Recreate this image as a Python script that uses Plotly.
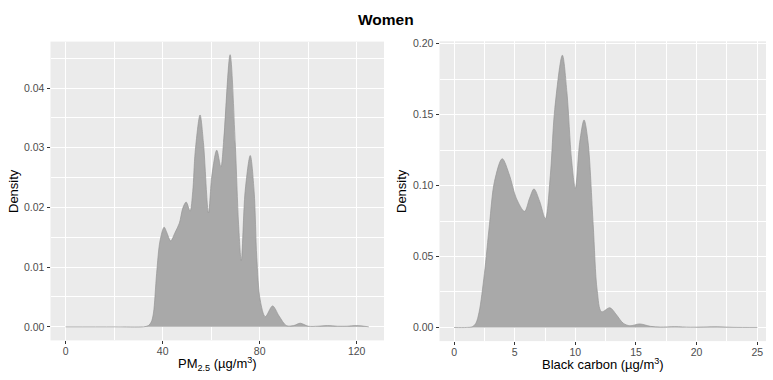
import plotly.graph_objects as go

# PM2.5 density (women)
pm_x = [0, 20, 32, 34.1, 35.3, 36.2, 37.5, 38.9, 40.6, 41.7, 43.3, 45.1, 46.9, 48.3, 49.7,
        51.3, 52.4, 53.4, 55.4, 56.8, 58.9, 60.3, 62.3, 64.0, 65.1, 67.8, 69.9, 71.3, 72.4,
        74.0, 76.1, 77.7, 78.8, 80.2, 82.3, 85.3, 88, 91, 94, 96.7, 100, 104, 108, 112,
        116, 120, 125]
pm_density = [0, 0, 0, 0.0002, 0.0008, 0.0023, 0.0089, 0.0144, 0.0167, 0.0158, 0.0144,
              0.0158, 0.0174, 0.0199, 0.0209, 0.0194, 0.0227, 0.0293, 0.0355, 0.0309,
              0.0191, 0.0254, 0.0296, 0.0268, 0.0309, 0.0456, 0.0309, 0.0172, 0.0111,
              0.0227, 0.0287, 0.0227, 0.0116, 0.0045, 0.0017, 0.0035, 0.0018, 0.0002,
              0.0002, 0.0006, 0.0001, 0.0001, 0.0002, 0.0001, 0.0001, 0.0002, 0.0]

# Black carbon density (women)
bc_x = [0, 1.0, 1.5, 1.8, 2.07, 2.5, 2.92, 3.33, 3.97, 4.57, 5.13, 5.81, 6.23, 6.59, 7.06,
        7.53, 7.94, 8.30, 8.93, 9.31, 9.68, 10.0, 10.36, 10.72, 11.05, 11.47, 11.8, 12.16,
        12.85, 13.4, 13.95, 14.5, 15.3, 16.2, 17, 18.2, 19.5, 21.7, 23, 25]
bc_density = [0, 0, 0.0005, 0.003, 0.011, 0.0378, 0.0726, 0.1027, 0.1189, 0.1073, 0.0911,
              0.0818, 0.0911, 0.0976, 0.0888, 0.0767, 0.1073, 0.1536, 0.1918, 0.1652,
              0.1189, 0.098, 0.1304, 0.1462, 0.1304, 0.0726, 0.0262, 0.0111, 0.0139,
              0.0088, 0.003, 0.0012, 0.0025, 0.0008, 0.0003, 0.0006, 0.0002, 0.0005,
              0.0001, 0]

pm_ticks = [0, 40, 80, 120]
pm_yticks = [0.00, 0.01, 0.02, 0.03, 0.04]
bc_ticks = [0, 5, 10, 15, 20, 25]
bc_yticks = [0.00, 0.05, 0.10, 0.15, 0.20]

W, H = 773, 380
FILL = "#A9A9A9"
LINE = "#959595"
PANEL = "#EBEBEB"
FONT = "Liberation Sans, Arial, sans-serif"

fig = go.Figure()
fig.add_trace(go.Scatter(x=pm_x, y=pm_density, mode="lines", fill="tozeroy",
                         fillcolor=FILL, line=dict(color=LINE, width=0.7, shape="spline", smoothing=0.9),
                         xaxis="x", yaxis="y", showlegend=False, hoverinfo="skip"))
fig.add_trace(go.Scatter(x=bc_x, y=bc_density, mode="lines", fill="tozeroy",
                         fillcolor=FILL, line=dict(color=LINE, width=0.7, shape="spline", smoothing=0.9),
                         xaxis="x2", yaxis="y2", showlegend=False, hoverinfo="skip"))

def px(v):
    return v / W

def py(v):
    return 1 - v / H

tickfont = dict(family=FONT, size=10.5, color="#4D4D4D")
common = dict(showgrid=True, gridcolor="white", gridwidth=1.1, zeroline=False,
              ticks="outside", ticklen=3, tickwidth=1, tickcolor="#333333",
              tickfont=tickfont, showline=False, fixedrange=True)
xcommon = dict(ticklabelstandoff=-2, **common)

fig.update_layout(
    width=W, height=H,
    margin=dict(l=0, r=0, t=0, b=0),
    paper_bgcolor="white",
    plot_bgcolor=PANEL,
    xaxis=dict(domain=[px(50.5), px(384)], range=[-6.25, 131.25], anchor="y",
               tickvals=pm_ticks, ticktext=[str(v) for v in pm_ticks],
               minor=dict(tickvals=[20, 60, 100], showgrid=True, gridcolor="white", gridwidth=0.5, ticks=""),
               **xcommon),
    yaxis=dict(domain=[py(340), py(38)], range=[-0.00228, 0.0478], anchor="x",
               tickvals=pm_yticks, ticktext=["%.2f" % v for v in pm_yticks],
               minor=dict(tickvals=[0.005, 0.015, 0.025, 0.035, 0.045], showgrid=True,
                          gridcolor="white", gridwidth=0.5, ticks=""),
               **common),
    xaxis2=dict(domain=[px(439.5), px(766)], range=[-1.2, 25.72], anchor="y2",
                tickvals=bc_ticks, ticktext=[str(v) for v in bc_ticks],
                minor=dict(tickvals=[2.5, 7.5, 12.5, 17.5, 22.5], showgrid=True,
                           gridcolor="white", gridwidth=0.5, ticks=""),
                **xcommon),
    yaxis2=dict(domain=[py(340.7), py(37.7)], range=[-0.0096, 0.2016], anchor="x2",
                tickvals=bc_yticks, ticktext=["%.2f" % v for v in bc_yticks],
                minor=dict(tickvals=[0.025, 0.075, 0.125, 0.175], showgrid=True,
                           gridcolor="white", gridwidth=0.5, ticks=""),
                **common),
    annotations=[
        dict(text="<b>Women</b>", x=px(386), y=py(16), xref="paper", yref="paper",
             showarrow=False, font=dict(family=FONT, size=15.5, color="black"),
             xanchor="center", yanchor="middle"),
        dict(text="PM<sub>2.5</sub> (µg/m<sup>3</sup>)", x=px(217), y=py(364),
             xref="paper", yref="paper", showarrow=False,
             font=dict(family=FONT, size=13, color="black"), xanchor="center", yanchor="middle"),
        dict(text="Black carbon (µg/m<sup>3</sup>)", x=px(603), y=py(364),
             xref="paper", yref="paper", showarrow=False,
             font=dict(family=FONT, size=13, color="black"), xanchor="center", yanchor="middle"),
        dict(text="Density", x=px(13), y=py(189), xref="paper", yref="paper",
             showarrow=False, textangle=-90,
             font=dict(family=FONT, size=13, color="black"), xanchor="center", yanchor="middle"),
        dict(text="Density", x=px(401), y=py(189), xref="paper", yref="paper",
             showarrow=False, textangle=-90,
             font=dict(family=FONT, size=13, color="black"), xanchor="center", yanchor="middle"),
    ],
)

fig.write_html("out.html")
